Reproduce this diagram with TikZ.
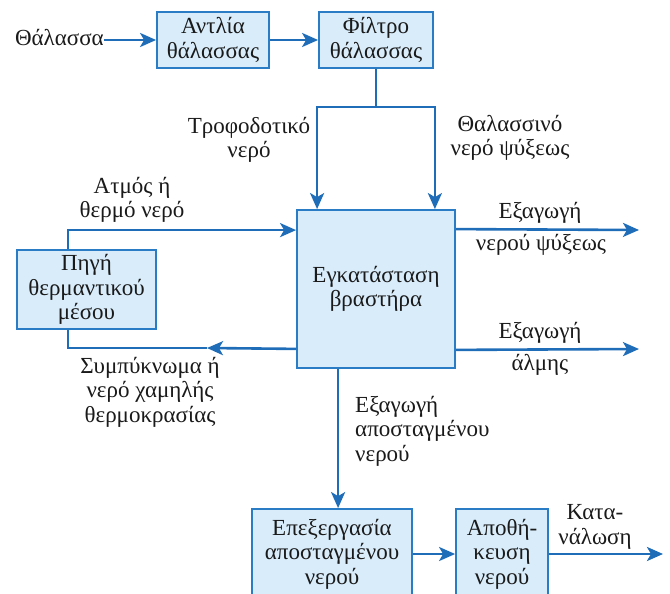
\documentclass[tikz,border=0pt]{standalone}
\usepackage{fontspec}
\setmainfont{Liberation Serif}
\usetikzlibrary{arrows.meta,calc}
\definecolor{boxfill}{HTML}{D8ECFA}
\definecolor{boxline}{HTML}{2A7CC4}
\definecolor{flow}{HTML}{1F6DB8}
\definecolor{ink}{HTML}{1A1A1A}
\newcommand\diagfont{\fontsize{23}{24.5}\selectfont}
\begin{document}
\begin{tikzpicture}[x=1pt,y=-1pt,
  box/.style={draw=boxline,fill=boxfill,line width=1.8pt,align=center,inner sep=0pt,font=\diagfont,text=ink},
  arr/.style={draw=flow,line width=2.6pt,-{Stealth[length=16pt,width=14pt,inset=4pt]}},
  ln/.style={draw=flow,line width=2.6pt},
  lbl/.style={align=center,font=\diagfont,inner sep=0pt,text=ink}]
\useasboundingbox (0,0) rectangle (670,594);
\clip (0,0) rectangle (670,594);

% boxes
\node[box,minimum width=112pt,minimum height=56pt] (pump) at (213,40) {Αντλία\\θάλασσας};
\node[box,minimum width=114pt,minimum height=56pt] (filt) at (376,40) {Φίλτρο\\θάλασσας};
\node[box,minimum width=158pt,minimum height=158pt] (boil) at (376,289) {Εγκατάσταση\\βραστήρα};
\node[box,minimum width=139pt,minimum height=79pt] (src) at (86.5,289.5) {Πηγή\\θερμαντικού\\μέσου};
\node[box,minimum width=160pt,minimum height=90pt] (proc) at (332,554) {Επεξεργασία\\αποσταγμένου\\νερού};
\node[box,minimum width=92pt,minimum height=90pt] (stor) at (502,554) {Αποθή-\\κευση\\νερού};

% labels
\node[lbl,anchor=east] (thal) at (104,38) {Θάλασσα};
\node[lbl] (feed) at (249,140) {Τροφοδοτικό\\νερό};
\node[lbl] (cool) at (510,138) {Θαλασσινό\\νερό ψύξεως};
\node[lbl] (steam) at (132,200) {Ατμός ή\\θερμό νερό};
\node[lbl] (cond) at (150,392) {Συμπύκνωμα ή\\νερό χαμηλής\\θερμοκρασίας};
\node[lbl] (coolA) at (540,213) {Εξαγωγή};
\node[lbl] (coolB) at (541,245) {νερού ψύξεως};
\node[lbl] (brineA) at (540,333) {Εξαγωγή};
\node[lbl] (brineB) at (540,365) {άλμης};
\node[lbl,align=left,anchor=west] (dist) at (355,431) {Εξαγωγή\\αποσταγμένου\\νερού};
\node[lbl] (cons) at (595,527) {Κατα-\\νάλωση};

% coordinates
\path (filt.south) ++(0,38) coordinate (split);
\coordinate (inL) at ($(boil.north west)+(21,0)$);
\coordinate (inR) at ($(boil.north east)+(-21,0)$);
\coordinate (srcTop) at ($(src.north west)+(52,0)$);
\coordinate (srcBot) at ($(src.south west)+(52,0)$);
\coordinate (steamIn) at ($(boil.north west)+(0,21)$);
\coordinate (condOut) at ($(boil.south west)+(0,-20)$);
\coordinate (condTip) at (207,348);
\coordinate (coolOut) at ($(boil.north east)+(0,20)$);
\coordinate (coolEnd) at (639,230);
\coordinate (brineOut) at ($(boil.south east)+(0,-19)$);
\coordinate (brineEnd) at (639,349);
\coordinate (distOut) at ($(boil.south west)+(42,0)$);
\coordinate (consEnd) at (663,554);

% connectors
\draw[arr] (thal.east |- pump) -- (pump.west);
\draw[arr] (pump) -- (filt);
\draw[ln] (filt.south) -- (split);
\draw[arr] (split) -| (inL);
\draw[arr] (split) -| (inR);
\draw[arr] (srcTop) |- (steamIn);
\draw[arr] (condOut) -- (condTip);
\draw[ln] (condTip) -| (srcBot);
\draw[arr] (coolOut) -- (coolEnd);
\draw[arr] (brineOut) -- (brineEnd);
\draw[arr] (distOut) -- (distOut |- proc.north);
\draw[arr] (proc) -- (stor);
\draw[arr] (stor.east) -- (consEnd);
\end{tikzpicture}
\end{document}
